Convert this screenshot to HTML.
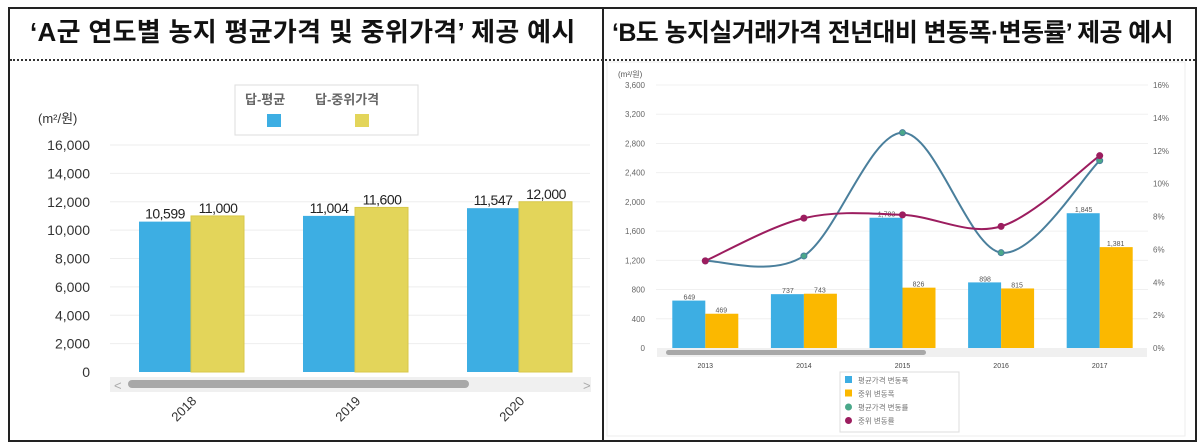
<!DOCTYPE html>
<html><head><meta charset="utf-8">
<style>
html,body{margin:0;padding:0;background:#fff;}
body{width:1200px;height:446px;overflow:hidden;position:relative;font-family:"Liberation Sans","Noto Sans CJK KR",sans-serif;}
.title{position:absolute;top:12px;font-weight:bold;font-size:26px;color:#111;white-space:nowrap;font-family:"Liberation Sans","Noto Sans CJK KR",sans-serif;}
svg text{font-family:"Liberation Sans","Noto Sans CJK KR",sans-serif;}
</style></head><body>
<div style="position:absolute;left:8px;top:7px;width:1185px;height:431px;border:2px solid #222;"></div>
<div style="position:absolute;left:602px;top:7px;width:2px;height:433px;background:#222;"></div>
<div style="position:absolute;left:10px;top:59px;width:1185px;border-top:2px dotted #333;"></div>
<div class="title" style="left:30px;letter-spacing:0.3px;">‘A군 연도별 농지 평균가격 및 중위가격’ 제공 예시</div>
<div class="title" style="left:612px;top:13px;font-size:25px;letter-spacing:-0.6px;">‘B도 농지실거래가격 전년대비 변동폭·변동률’ 제공 예시</div>

<svg id="left" width="600" height="446" style="position:absolute;left:0;top:0"></svg>
<svg id="right" width="600" height="446" style="position:absolute;left:600px;top:0"></svg>

<script>
// Left chart data
const lCats=['2018','2019','2020'];
const lAvg=[10599,11004,11547];
const lMed=[11000,11600,12000];
const lAvgLbl=['10,599','11,004','11,547'];
const lMedLbl=['11,000','11,600','12,000'];
const lTicks=[0,2000,4000,6000,8000,10000,12000,14000,16000];
const lTickLbl=['0','2,000','4,000','6,000','8,000','10,000','12,000','14,000','16,000'];
// Right chart data
const rCats=['2013','2014','2015','2016','2017'];
const rAvg=[649,737,1783,898,1845];
const rMed=[469,743,826,815,1381];
const rAvgLbl=['649','737','1,783','898','1,845'];
const rMedLbl=['469','743','826','815','1,381'];
const rAvgRate=[5.3,5.6,13.1,5.8,11.4];
const rMedRate=[5.3,7.9,8.1,7.4,11.7];
const rTicks=[0,400,800,1200,1600,2000,2400,2800,3200,3600];
const rTickLbl=['0','400','800','1,200','1,600','2,000','2,400','2,800','3,200','3,600'];
const rPct=[0,2,4,6,8,10,12,14,16];
const rPctLbl=['0%','2%','4%','6%','8%','10%','12%','14%','16%'];

const NS='http://www.w3.org/2000/svg';
function mk(p,t,a,txt){const e=document.createElementNS(NS,t);for(const k in a)e.setAttribute(k,a[k]);if(txt!==undefined)e.textContent=txt;p.appendChild(e);return e;}

// ---------- LEFT ----------
(function(){
const s=document.getElementById('left');
const y=v=>372-v/16000*227;
const x0=109,bw=164;const cx=i=>x0+bw*(i+0.5);
lTicks.forEach((t,i)=>{
 if(i>0){const g=mk(s,'line',{x1:110,x2:590,y1:y(t),y2:y(t),stroke:'#eeeeee','stroke-width':1});}
 const l=mk(s,'text',{x:90,y:y(t)+5,'text-anchor':'end','font-size':14,fill:'#333'},lTickLbl[i]);
 
});
const u=mk(s,'text',{x:38,y:123,'font-size':13,fill:'#333'},'(m²/원)');
lCats.forEach((c,i)=>{
 const b1=mk(s,'rect',{x:cx(i)-52,y:y(lAvg[i]),width:52,height:372-y(lAvg[i]),fill:'#3daee3'});
 
 const b2=mk(s,'rect',{x:cx(i),y:y(lMed[i]),width:53,height:372-y(lMed[i]),fill:'#e3d55a',stroke:'#d8c84a'});
 
 const t1=mk(s,'text',{x:cx(i)-26,y:y(lAvg[i])-3,'text-anchor':'middle','font-size':14,fill:'#222','letter-spacing':'-0.5'},lAvgLbl[i]);
 
 const t2=mk(s,'text',{x:cx(i)+27,y:y(lMed[i])-3,'text-anchor':'middle','font-size':14,fill:'#222','letter-spacing':'-0.5'},lMedLbl[i]);
 
 const xl=mk(s,'text',{x:0,y:0,'text-anchor':'middle','font-size':13,fill:'#333',transform:`translate(${cx(i)-4},412) rotate(-45)`},c);
 
});
const sb=mk(s,'rect',{x:110,y:377,width:481,height:15,fill:'#f0f0f0'});
const th=mk(s,'rect',{x:128,y:380,width:341,height:8,rx:4,fill:'#a8a8a8'});
mk(s,'text',{x:114,y:390,'font-size':13,fill:'#aaa'},'<');mk(s,'text',{x:583,y:390,'font-size':13,fill:'#aaa'},'>');
const lg=mk(s,'rect',{x:235,y:85,width:183,height:50,fill:'#fff',stroke:'#ddd'});
const a=mk(s,'text',{x:245,y:104,'font-size':13,fill:'#666',"font-weight":"bold"},'답-평균');
const b=mk(s,'text',{x:315,y:104,'font-size':13,fill:'#666',"font-weight":"bold"},'답-중위가격');
mk(s,'rect',{x:267,y:114,width:14,height:13,fill:'#3daee3'});
mk(s,'rect',{x:355,y:114,width:14,height:13,fill:'#e3d55a'});
})();

// ---------- RIGHT ----------
(function(){
const s=document.getElementById('right');
const y=v=>348-v/3600*263;
const yp=v=>348-v/16*263;
const x0=56,bw=98.6;const cx=i=>x0+bw*(i+0.5);
const fr=mk(s,'rect',{x:7,y:62,width:578,height:374,fill:'none',stroke:'#eee'});
rTicks.forEach((t,i)=>{
 if(i>0){const g=mk(s,'line',{x1:56,x2:548,y1:y(t),y2:y(t),stroke:'#f0f0f0'});}
 const l=mk(s,'text',{x:45,y:y(t)+3,'text-anchor':'end','font-size':8,fill:'#666'},rTickLbl[i]);
 
});
rPct.forEach((t,i)=>{
 const l=mk(s,'text',{x:553,y:yp(t)+3,'font-size':8,fill:'#666'},rPctLbl[i]);
 
});
const u=mk(s,'text',{x:18,y:77,'font-size':8,fill:'#555'},'(m²/원)');
rCats.forEach((c,i)=>{
 const b1=mk(s,'rect',{x:cx(i)-33,y:y(rAvg[i]),width:33,height:348-y(rAvg[i]),fill:'#3daee3'});
 
 const b2=mk(s,'rect',{x:cx(i),y:y(rMed[i]),width:33,height:348-y(rMed[i]),fill:'#fbb800'});
 
 const t1=mk(s,'text',{x:cx(i)-16,y:y(rAvg[i])-1,'text-anchor':'middle','font-size':7,fill:'#555'},rAvgLbl[i]);
 
 const t2=mk(s,'text',{x:cx(i)+16,y:y(rMed[i])-1,'text-anchor':'middle','font-size':7,fill:'#555'},rMedLbl[i]);
 
 const xl=mk(s,'text',{x:cx(i),y:368,'text-anchor':'middle','font-size':7,fill:'#444'},c);
 
});
function spline(pts){let d=`M${pts[0][0]},${pts[0][1]}`;for(let i=0;i<pts.length-1;i++){const p0=pts[i-1]||pts[i],p1=pts[i],p2=pts[i+1],p3=pts[i+2]||p2;const k=1/6;d+=` C${p1[0]+(p2[0]-p0[0])*k},${p1[1]+(p2[1]-p0[1])*k} ${p2[0]-(p3[0]-p1[0])*k},${p2[1]-(p3[1]-p1[1])*k} ${p2[0]},${p2[1]}`;}return d;}
const pa=rAvgRate.map((v,i)=>[cx(i),yp(v)]);
const pm=rMedRate.map((v,i)=>[cx(i),yp(v)]);
const la=mk(s,'path',{d:spline(pa),fill:'none',stroke:'#4a7f9c','stroke-width':2});
const lm=mk(s,'path',{d:spline(pm),fill:'none',stroke:'#9c1d5f','stroke-width':2});
pa.forEach(p=>{const c=mk(s,'circle',{cx:p[0],cy:p[1],r:3,fill:'#4aa88a',stroke:'#4a7f9c'});});
pm.forEach(p=>{const c=mk(s,'circle',{cx:p[0],cy:p[1],r:3.5,fill:'#9c1d5f'});});
const sb=mk(s,'rect',{x:57,y:348,width:490,height:9,fill:'#f0f0f0'});
const th=mk(s,'rect',{x:66,y:350,width:260,height:5,rx:2.5,fill:'#a8a8a8'});
const lg=mk(s,'rect',{x:240,y:372,width:119,height:60,fill:'#fff',stroke:'#ddd'});
const names=['평균가격 변동폭','중위 변동폭','평균가격 변동률','중위 변동률'];
const cols=['#3daee3','#fbb800','#4aa88a','#9c1d5f'];
names.forEach((n,i)=>{
 const yy=380+i*13.5;
 if(i<2)mk(s,'rect',{x:245,y:yy-4,width:7,height:7,fill:cols[i]});else mk(s,'circle',{cx:248.5,cy:yy,r:3.5,fill:cols[i]});
 const t=mk(s,'text',{x:258,y:yy+3,'font-size':7.5,fill:'#777'},n);
 
});
})();
</script>
</body></html>
